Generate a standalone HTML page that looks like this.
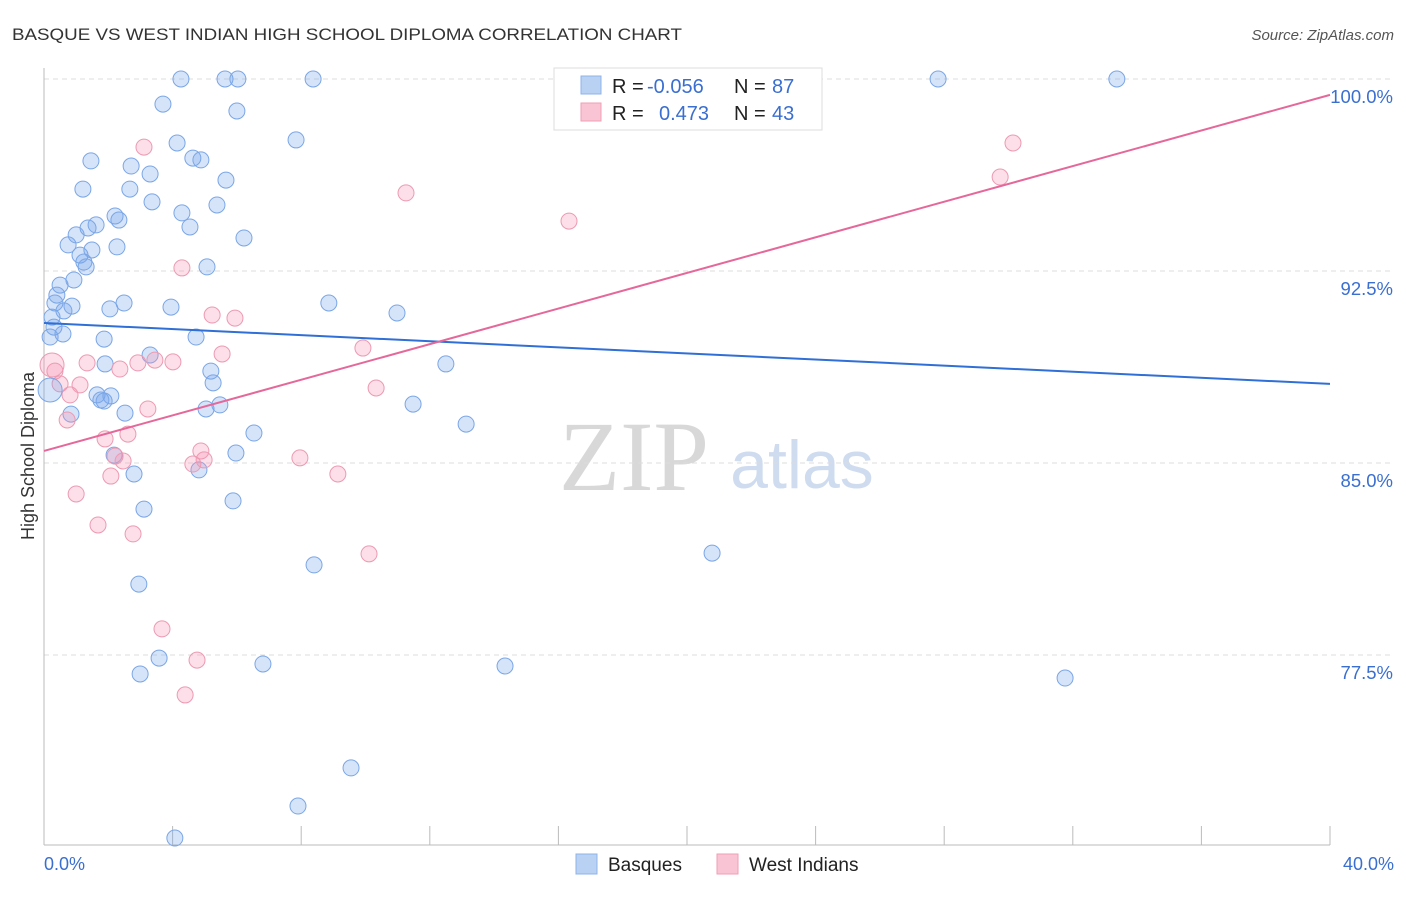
<!DOCTYPE html>
<html><head><meta charset="utf-8"><style>
body{margin:0;background:#fff;font-family:"Liberation Sans",sans-serif;}
svg text{font-family:"Liberation Sans",sans-serif;}
</style></head><body>
<svg id="chart" width="1406" height="892">
<text x="12" y="40" font-size="17" fill="#333" textLength="670" lengthAdjust="spacingAndGlyphs">BASQUE VS WEST INDIAN HIGH SCHOOL DIPLOMA CORRELATION CHART</text>
<text x="1394" y="40" font-size="15" fill="#555" text-anchor="end" font-style="italic">Source: ZipAtlas.com</text>
<text x="634" y="490" font-size="100" fill="#d8d8d8" text-anchor="middle" style="font-family:'Liberation Serif',serif">ZIP</text>
<text x="802" y="488" font-size="68" fill="#cfdcef" text-anchor="middle">atlas</text>
<text x="34" y="456" font-size="18" fill="#333" text-anchor="middle" transform="rotate(-90 34 456)">High School Diploma</text>
<g id="grid"></g><g id="ticks"></g>
<line x1="44" y1="68" x2="44" y2="845" stroke="#bbb"/>
<line x1="44" y1="845" x2="1330" y2="845" stroke="#bbb"/>
<g id="pts"></g><g id="lines"></g>
<g>
<rect x="554" y="68" width="268" height="62" fill="#fff" stroke="#ddd"/>
<rect x="581" y="76" width="20" height="18" fill="#b9d1f3" stroke="#8fb3e8"/>
<rect x="581" y="103" width="20" height="18" fill="#f9c4d3" stroke="#ef9fb6"/>
<text x="612" y="93" font-size="20" fill="#222">R = <tspan x="647" fill="#3a6fd0">-0.056</tspan><tspan x="734">N = </tspan><tspan x="772" fill="#3a6fd0">87</tspan></text>
<text x="612" y="120" font-size="20" fill="#222">R = <tspan x="659" fill="#3a6fd0">0.473</tspan><tspan x="734">N = </tspan><tspan x="772" fill="#3a6fd0">43</tspan></text>
</g>
<g>
<rect x="576" y="854" width="21" height="20" fill="#b9d1f3" stroke="#8fb3e8"/>
<text x="608" y="871" font-size="19" fill="#222">Basques</text>
<rect x="717" y="854" width="21" height="20" fill="#f9c4d3" stroke="#ef9fb6"/>
<text x="749" y="871" font-size="19" fill="#222">West Indians</text>
</g>
<text x="44" y="870" font-size="18" fill="#3a6fd0">0.0%</text>
<text x="1394" y="870" font-size="18" fill="#3a6fd0" text-anchor="end">40.0%</text>
</svg>
<script>
const yTicks=[100,92.5,85,77.5];
const yTickLabels=["100.0%","92.5%","85.0%","77.5%"];
const xTickVals=[4,8,12,16,20,24,28,32,36,40];
const blueX=[4.26,5.63,6.03,8.37,27.81,33.37,3.70,6.00,4.14,7.84,1.46,2.71,4.63,4.88,3.30,5.66,1.21,2.67,3.36,5.38,2.21,2.33,4.29,1.62,1.37,4.54,1.00,6.22,0.75,2.27,1.49,1.12,1.24,1.31,5.07,0.93,0.50,0.40,0.34,0.87,2.49,3.95,8.86,0.62,2.05,10.98,0.25,0.31,0.19,0.59,1.87,4.73,3.30,1.90,12.50,5.19,5.26,1.65,2.08,1.77,1.87,5.47,5.04,2.52,11.48,0.84,13.13,6.53,5.97,2.18,2.80,4.82,5.88,3.11,20.78,8.40,2.95,3.58,6.81,2.99,14.34,31.76,9.55,7.90,4.07];
const blueY=[100,100,100,100,100,100,99.02,98.75,97.5,97.62,96.80,96.60,96.91,96.84,96.29,96.05,95.70,95.70,95.20,95.08,94.65,94.49,94.77,94.30,94.18,94.22,93.91,93.79,93.52,93.44,93.32,93.12,92.85,92.66,92.66,92.15,91.95,91.56,91.25,91.13,91.25,91.09,91.25,90.94,91.02,90.86,90.70,90.31,89.92,90.04,89.84,89.92,89.22,88.87,88.87,88.59,88.13,87.66,87.62,87.46,87.42,87.27,87.11,86.95,87.30,86.91,86.52,86.17,85.39,85.31,84.57,84.73,83.52,83.20,81.48,81.02,80.27,77.38,77.15,76.76,77.07,76.60,73.09,71.60,70.35];
const pinkX=[3.11,30.14,29.74,11.26,16.33,4.29,5.23,5.94,9.92,5.54,1.34,0.34,2.36,2.92,3.45,4.01,0.50,1.12,0.81,10.33,3.23,0.72,2.61,1.90,2.21,2.46,4.88,4.98,4.63,7.96,2.08,9.14,1.00,1.68,2.77,10.11,3.67,4.76,4.39];
const pinkY=[97.34,97.50,96.17,95.55,94.45,92.62,90.78,90.66,89.49,89.26,88.91,88.59,88.67,88.91,89.02,88.95,88.09,88.05,87.66,87.93,87.11,86.68,86.13,85.94,85.27,85.08,85.47,85.12,84.96,85.20,84.49,84.57,83.79,82.58,82.23,81.45,78.52,77.30,75.94];
const bigX=[0.19,0.25];const bigY=[87.85,88.83];
const blueLine=[90.47,88.09];const pinkLine=[85.47,99.38];
const X=v=>44+v*32.15, Y=v=>79+(100-v)*25.6;
const NS="http://www.w3.org/2000/svg";
function mk(tag,parent,attrs){const e=document.createElementNS(NS,tag);for(const k in attrs)e.setAttribute(k,attrs[k]);document.getElementById(parent).appendChild(e);return e;}
yTicks.forEach((t,i)=>{
 const l=mk('line','grid',{x1:44,x2:1392,y1:Y(t),y2:Y(t),stroke:'#ddd','stroke-dasharray':'5,4'});
 
 
 const tx=mk('text','grid',{x:1393,y:Y(t)+24,'font-size':18.5,fill:'#3a6fd0','text-anchor':'end'});tx.textContent=yTickLabels[i];
 
 
});
xTickVals.forEach(v=>{
 const l=mk('line','ticks',{x1:X(v),x2:X(v),y1:826,y2:845,stroke:'#bbb'});
 
 
});
function pt(x,y,r,c){
 const f=c==='b'?'rgba(120,165,235,0.3)':'rgba(245,150,180,0.3)', s=c==='b'?'#7aa6e6':'#ec9ab2';
 const e=mk('circle','pts',{cx:X(x),cy:Y(y),r:r,fill:f,stroke:s,'stroke-width':1});
 
 
}
blueX.forEach((x,i)=>pt(x,blueY[i],8,'b'));
pinkX.forEach((x,i)=>pt(x,pinkY[i],8,'p'));
pt(bigX[0],bigY[0],12,'b');pt(bigX[1],bigY[1],12,'p');
const bl=mk('line','lines',{x1:X(0),y1:Y(blueLine[0]),x2:X(40),y2:Y(blueLine[1]),stroke:'#2f6fd6','stroke-width':2});


const pl=mk('line','lines',{x1:X(0),y1:Y(pinkLine[0]),x2:X(40),y2:Y(pinkLine[1]),stroke:'#e5689a','stroke-width':2});


</script>
</body></html>
